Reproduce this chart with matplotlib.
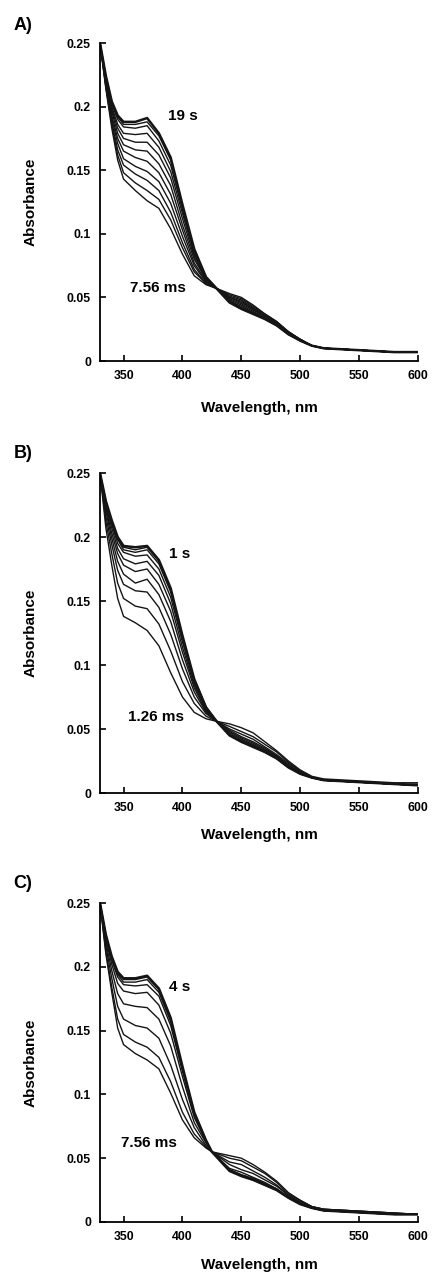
import matplotlib
matplotlib.use("Agg")
import matplotlib.pyplot as plt

plt.rcParams['font.family'] = ['Liberation Sans', 'DejaVu Sans']
plt.rcParams['font.weight'] = 'bold'

# wavelength grids (nm)
wl_a = [330, 335, 340, 345, 350, 360, 370, 380, 390, 400, 410, 420, 429, 440, 450, 460, 470, 480, 490, 500, 510, 520, 540, 560, 580, 600]
wl_b = [330, 335, 340, 345, 350, 360, 370, 380, 390, 400, 410, 420, 429, 440, 450, 460, 470, 480, 490, 500, 510, 520, 540, 560, 580, 600]
wl_c = [330, 335, 340, 345, 350, 360, 370, 380, 390, 400, 410, 420, 425, 440, 450, 460, 470, 480, 490, 500, 510, 520, 540, 560, 580, 600]

# panel A spectra, first (7.56 ms) to last (19 s)
abs_a = [
    [.250, .214, .183, .158, .143, .134, .126, .120, .104, .084, .067, .060, .057, .053, .050, .044, .037, .031, .023, .017, .012, .010, .009, .008, .007, .007],
    [.250, .215, .186, .162, .148, .140, .134, .127, .111, .089, .070, .061, .057, .052, .049, .043, .037, .031, .023, .017, .012, .010, .009, .008, .007, .007],
    [.250, .216, .188, .166, .154, .147, .142, .134, .117, .093, .072, .061, .057, .051, .048, .042, .036, .030, .023, .017, .012, .010, .009, .008, .007, .007],
    [.250, .218, .191, .171, .159, .153, .149, .141, .124, .098, .075, .062, .057, .050, .047, .041, .036, .030, .022, .017, .012, .010, .009, .008, .007, .007],
    [.250, .219, .193, .175, .165, .160, .157, .148, .131, .103, .077, .063, .057, .050, .046, .041, .035, .030, .022, .017, .012, .010, .009, .008, .007, .007],
    [.250, .220, .196, .179, .170, .166, .165, .155, .138, .107, .080, .064, .057, .049, .045, .040, .035, .029, .022, .016, .012, .010, .009, .008, .007, .007],
    [.250, .221, .198, .183, .175, .172, .172, .162, .144, .112, .082, .064, .057, .048, .044, .039, .034, .029, .022, .016, .012, .010, .009, .008, .007, .007],
    [.250, .222, .200, .186, .179, .178, .179, .168, .149, .116, .084, .065, .057, .047, .043, .038, .034, .029, .021, .016, .012, .010, .009, .008, .007, .007],
    [.250, .223, .202, .190, .184, .183, .185, .173, .154, .119, .086, .065, .057, .047, .042, .038, .033, .028, .021, .016, .012, .010, .009, .008, .007, .007],
    [.250, .224, .203, .192, .186, .186, .188, .177, .158, .121, .087, .066, .057, .046, .041, .037, .033, .028, .021, .016, .012, .010, .009, .008, .007, .007],
    [.250, .224, .204, .193, .188, .188, .191, .179, .160, .123, .088, .066, .057, .046, .041, .037, .033, .028, .021, .016, .012, .010, .009, .008, .007, .007],
]

# panel B spectra, 1.26 ms to 1 s
abs_b = [
    [.250, .207, .178, .152, .138, .133, .127, .115, .094, .075, .063, .058, .056, .054, .051, .047, .040, .033, .025, .018, .013, .011, .010, .009, .008, .008],
    [.250, .212, .187, .164, .152, .146, .144, .132, .111, .087, .070, .060, .056, .052, .048, .044, .038, .032, .024, .017, .012, .010, .009, .008, .007, .007],
    [.250, .216, .194, .174, .163, .158, .157, .145, .124, .097, .075, .062, .056, .050, .046, .042, .036, .030, .023, .017, .012, .010, .009, .008, .007, .006],
    [.250, .220, .199, .181, .171, .164, .167, .155, .134, .104, .079, .063, .056, .049, .044, .040, .035, .029, .022, .016, .012, .010, .009, .008, .007, .006],
    [.250, .222, .203, .187, .178, .173, .175, .163, .142, .110, .082, .064, .056, .048, .043, .039, .034, .029, .021, .016, .012, .010, .009, .008, .007, .006],
    [.250, .224, .207, .191, .183, .179, .181, .170, .148, .114, .084, .065, .056, .047, .042, .038, .033, .028, .021, .016, .012, .010, .009, .008, .007, .006],
    [.250, .226, .210, .195, .188, .185, .186, .175, .153, .118, .086, .066, .056, .046, .041, .037, .033, .028, .021, .015, .012, .010, .009, .008, .007, .006],
    [.250, .227, .211, .198, .190, .188, .190, .179, .157, .121, .088, .067, .056, .045, .041, .037, .032, .027, .020, .015, .012, .010, .009, .008, .007, .006],
    [.250, .228, .212, .199, .192, .190, .192, .181, .159, .122, .089, .067, .056, .045, .040, .036, .032, .027, .020, .015, .012, .010, .009, .008, .007, .006],
    [.250, .228, .213, .200, .193, .192, .193, .182, .160, .123, .089, .067, .056, .045, .040, .036, .032, .027, .020, .015, .012, .010, .009, .008, .007, .006],
]

# panel C spectra, 7.56 ms to 4 s
abs_c = [
    [.250, .210, .180, .152, .139, .132, .127, .120, .101, .080, .066, .058, .055, .052, .050, .045, .039, .032, .023, .017, .012, .010, .009, .008, .007, .006],
    [.250, .212, .184, .159, .147, .141, .137, .129, .110, .086, .069, .059, .055, .050, .048, .043, .038, .031, .022, .017, .012, .010, .009, .008, .007, .006],
    [.250, .216, .191, .169, .159, .154, .152, .144, .123, .096, .074, .060, .055, .047, .045, .040, .035, .029, .021, .016, .012, .010, .009, .008, .007, .006],
    [.250, .219, .197, .179, .171, .169, .168, .159, .138, .106, .078, .062, .055, .045, .041, .038, .033, .028, .021, .015, .011, .009, .008, .007, .006, .006],
    [.250, .222, .202, .187, .181, .179, .180, .170, .148, .114, .082, .063, .055, .042, .039, .035, .031, .026, .020, .015, .011, .009, .008, .007, .006, .006],
    [.250, .224, .205, .192, .186, .185, .186, .177, .154, .118, .084, .063, .055, .041, .037, .034, .030, .026, .019, .014, .011, .009, .008, .007, .006, .006],
    [.250, .224, .207, .194, .188, .188, .190, .180, .157, .120, .085, .064, .055, .041, .037, .034, .030, .025, .019, .014, .011, .009, .008, .007, .006, .006],
    [.250, .225, .207, .195, .190, .190, .192, .182, .159, .121, .086, .064, .055, .040, .036, .033, .029, .025, .019, .014, .011, .009, .008, .007, .006, .006],
    [.250, .225, .208, .196, .191, .191, .193, .183, .160, .122, .086, .064, .055, .040, .036, .033, .029, .025, .019, .014, .011, .009, .008, .007, .006, .006],
]

panel_names = ["A)", "B)", "C)"]
late_labels = ["19 s", "1 s", "4 s"]
early_labels = ["7.56 ms", "1.26 ms", "7.56 ms"]
late_pos = [(400, 0.193), (398, 0.187), (398, 0.184)]
early_pos = [(379, 0.0574), (377.5, 0.0596), (371.6, 0.062)]

xticks = [350, 400, 450, 500, 550, 600]
yticks = [0, 0.05, 0.1, 0.15, 0.2, 0.25]
ytick_labels = ["0", "0.05", "0.1", "0.15", "0.2", "0.25"]

W, H = 432, 1279
fig = plt.figure(figsize=(W / 100, H / 100), dpi=100)

# axes boxes in pixels: left, top, right, bottom
boxes = [(100, 43, 418, 361), (100, 473, 418, 793), (100, 903, 418, 1222)]
label_y = [25, 453, 883]
xlabel_drop = [47, 42, 43]

for i, (wl, spectra) in enumerate([(wl_a, abs_a), (wl_b, abs_b), (wl_c, abs_c)]):
    l, t, r, b = boxes[i]
    ax = fig.add_axes([l / W, 1 - b / H, (r - l) / W, (b - t) / H])
    n = len(spectra)
    for j, s in enumerate(spectra):
        lw = 1.8 if j == n - 1 else 1.0
        ax.plot(wl, s, color='#151515', lw=lw, solid_joinstyle='round')

    ax.set_xlim(330, 600)
    ax.set_ylim(0, 0.25)
    ax.set_xticks(xticks)
    ax.set_yticks(yticks)
    ax.set_yticklabels(ytick_labels)
    ax.spines['top'].set_visible(False)
    ax.spines['right'].set_visible(False)
    ax.spines['left'].set_linewidth(1.3)
    ax.spines['bottom'].set_linewidth(1.3)
    ax.tick_params(direction='in', length=4, width=1.2, labelsize=8.8, pad=6.5)
    for lab in ax.get_xticklabels() + ax.get_yticklabels():
        lab.set_fontweight('bold')

    ax.text(*late_pos[i], late_labels[i], fontsize=11, fontweight='bold', ha='center', va='center')
    ax.text(*early_pos[i], early_labels[i], fontsize=11, fontweight='bold', ha='center', va='center')

    ax.text(0.5, -xlabel_drop[i] / (b - t), "Wavelength, nm", transform=ax.transAxes,
            fontsize=11, fontweight='bold', ha='center', va='center')
    ax.text((31 - l) / (r - l), 0.5, "Absorbance", transform=ax.transAxes, rotation=90,
            fontsize=11, fontweight='bold', ha='center', va='center')

    fig.text(23 / W, 1 - label_y[i] / H, panel_names[i], fontsize=13, fontweight='bold', ha='center', va='center')

fig.savefig("out.png", dpi=100)
